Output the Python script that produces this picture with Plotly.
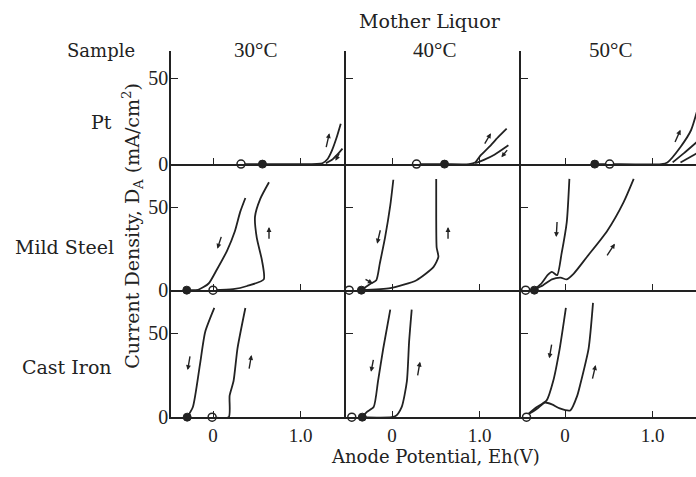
import plotly.graph_objects as go

W, H = 696, 477

# ---------------- text ----------------
SUPER_TITLE = "Mother Liquor"
ROW_NAMES = ["Pt", "Mild Steel", "Cast Iron"]
COL_NAMES = ["30°C", "40°C", "50°C"]
ROW_HEADER = "Sample"
X_TITLE = "Anode Potential, Eh(V)"
Y_TITLE = "Current Density, D<sub>A</sub> (mA/cm<sup>2</sup>)"
X_TICKS = [0, 1.0]
X_TICK_TEXT = ["0", "1.0"]
Y_TICKS = [0, 50]
Y_TICK_TEXT = ["0", "50"]

# ---------------- data (Eh in V, current in mA/cm2) ----------------
# Pt, 30 C
PT30_A_X = [0.32, 0.565, 1.0, 1.25, 1.31, 1.36, 1.41, 1.46]
PT30_A_Y = [0, 0, 0, 0.5, 3, 8, 15, 23.5]
PT30_B_X = [1.29, 1.36, 1.42, 1.48]
PT30_B_Y = [0.5, 2.5, 5.5, 9]
PT30_OPEN = [0.32]
PT30_FILLED = [0.565]
# Pt, 40 C
PT40_A_X = [0.28, 0.60, 0.88, 0.95, 1.01, 1.11, 1.21, 1.31]
PT40_A_Y = [0, 0, 0, 1, 5, 10, 15.5, 20.6]
PT40_B_X = [0.95, 1.05, 1.17, 1.33]
PT40_B_Y = [0.5, 2.5, 5.5, 11]
PT40_OPEN = [0.28]
PT40_FILLED = [0.60]
# Pt, 50 C
PT50_A_X = [0.34, 0.51, 1.1, 1.17, 1.32, 1.44, 1.51]
PT50_A_Y = [0, 0, 0, 1, 10, 19.7, 31]
PT50_B_X = [1.23, 1.36, 1.51]
PT50_B_Y = [1, 6.4, 13]
PT50_C_X = [1.32, 1.51]
PT50_C_Y = [1, 6.4]
PT50_OPEN = [0.51]
PT50_FILLED = [0.34]
# Mild steel, 30 C
MS30_DN_X = [0.37, 0.31, 0.25, 0.16, 0.04, -0.05, -0.17, -0.30]
MS30_DN_Y = [55.5, 47, 35.5, 23.7, 12, 4, 0.2, 0]
MS30_UP_X = [0.0, 0.23, 0.39, 0.58, 0.56, 0.50, 0.48, 0.54, 0.64]
MS30_UP_Y = [0, 0.6, 2.5, 6.5, 17.8, 31.6, 44.3, 55, 65]
MS30_OPEN = [0.0]
MS30_FILLED = [-0.30]
# Mild steel, 40 C
MS40_DN_X = [0.015, -0.02, -0.08, -0.14, -0.18, -0.25, -0.35]
MS40_DN_Y = [66.5, 51, 31.6, 16, 6, 3.7, 0]
MS40_UP_X = [-0.35, -0.02, 0.28, 0.475, 0.53, 0.51, 0.505, 0.505]
MS40_UP_Y = [0, 1.2, 6, 14, 20, 25.7, 45, 67]
MS40_OPEN = [-0.49]
MS40_FILLED = [-0.35]
# Mild steel, 50 C
MS50_DN_X = [0.05, 0.02, -0.04, -0.09, -0.15, -0.20, -0.27, -0.35]
MS50_DN_Y = [67, 41, 21.8, 9, 11, 9, 4, 0.5]
MS50_UP_X = [-0.35, -0.25, -0.15, -0.05, 0.02, 0.10, 0.25, 0.48, 0.67, 0.785]
MS50_UP_Y = [0.5, 3, 6.5, 7.5, 6.5, 10, 20, 35.5, 53, 67]
MS50_OPEN = [-0.45]
MS50_FILLED = [-0.35]
# Cast iron, 30 C
CI30_DN_X = [0.015, -0.09, -0.15, -0.23, -0.295]
CI30_DN_Y = [65, 50.6, 31, 6, 0]
CI30_UP_X = [-0.01, 0.18, 0.19, 0.235, 0.28, 0.37]
CI30_UP_Y = [0, 0, 12.8, 21.5, 41, 65]
CI30_OPEN = [-0.01]
CI30_FILLED = [-0.295]
# Cast iron, 40 C
CI40_DN_X = [-0.02, -0.10, -0.16, -0.21, -0.29, -0.34]
CI40_DN_Y = [64, 41, 21.5, 6, 3, 0]
CI40_UP_X = [-0.34, 0.035, 0.11, 0.17, 0.195, 0.225]
CI40_UP_Y = [0, 0.5, 6, 21.5, 44.8, 64]
CI40_OPEN = [-0.46]
CI40_FILLED = [-0.34]
# Cast iron, 50 C
CI50_DN_X = [0.01, -0.06, -0.135, -0.21, -0.345, -0.44]
CI50_DN_Y = [65, 41, 21.5, 10, 5.2, 1]
CI50_UP_X = [-0.44, -0.32, -0.23, -0.15, -0.06, 0.06, 0.14, 0.17, 0.27, 0.32]
CI50_UP_Y = [1, 5, 8.7, 7.6, 5.2, 4, 12.8, 18.6, 41, 68]
CI50_OPEN = [-0.44]
CI50_FILLED = []

# scan-direction arrows: (head_x, head_y, tail_x, tail_y)
ARROWS = {
    (0, 0): [(1.33, 18, 1.29, 9), (1.40, 2, 1.45, 7)],
    (0, 1): [(1.13, 18, 1.05, 11), (1.25, 4, 1.33, 9)],
    (0, 2): [(1.32, 20, 1.25, 12)],
    (1, 0): [(0.05, 25, 0.10, 33), (0.64, 38, 0.64, 30)],
    (1, 1): [(-0.17, 28, -0.13, 37), (0.64, 38, 0.64, 30), (-0.22, 4, -0.32, 7)],
    (1, 2): [(-0.10, 32, -0.09, 42), (0.57, 28, 0.47, 20)],
    (2, 0): [(-0.29, 28, -0.26, 37), (0.44, 37, 0.41, 28)],
    (2, 1): [(-0.24, 27, -0.21, 35), (0.32, 33, 0.29, 24)],
    (2, 2): [(-0.18, 35, -0.15, 44), (0.35, 31, 0.31, 22)],
}

PANELS = {
    (0, 0): ([(PT30_A_X, PT30_A_Y), (PT30_B_X, PT30_B_Y)], PT30_OPEN, PT30_FILLED),
    (0, 1): ([(PT40_A_X, PT40_A_Y), (PT40_B_X, PT40_B_Y)], PT40_OPEN, PT40_FILLED),
    (0, 2): ([(PT50_A_X, PT50_A_Y), (PT50_B_X, PT50_B_Y), (PT50_C_X, PT50_C_Y)], PT50_OPEN, PT50_FILLED),
    (1, 0): ([(MS30_DN_X, MS30_DN_Y), (MS30_UP_X, MS30_UP_Y)], MS30_OPEN, MS30_FILLED),
    (1, 1): ([(MS40_DN_X, MS40_DN_Y), (MS40_UP_X, MS40_UP_Y)], MS40_OPEN, MS40_FILLED),
    (1, 2): ([(MS50_DN_X, MS50_DN_Y), (MS50_UP_X, MS50_UP_Y)], MS50_OPEN, MS50_FILLED),
    (2, 0): ([(CI30_DN_X, CI30_DN_Y), (CI30_UP_X, CI30_UP_Y)], CI30_OPEN, CI30_FILLED),
    (2, 1): ([(CI40_DN_X, CI40_DN_Y), (CI40_UP_X, CI40_UP_Y)], CI40_OPEN, CI40_FILLED),
    (2, 2): ([(CI50_DN_X, CI50_DN_Y), (CI50_UP_X, CI50_UP_Y)], CI50_OPEN, CI50_FILLED),
}

# ---------------- layout geometry (pixels) ----------------
COL_PX = [(171, 346), (346, 521), (521, 696)]
ROW_PX = [(52, 168), (168, 297), (297, 427)]
X_RANGES = [[-0.48, 1.52], [-0.526, 1.474], [-0.503, 1.497]]
Y_RANGES = [[0, 65.9], [0, 75.9], [0, 75.6]]

INK = "#222222"
FONT = "DejaVu Serif"
NUM_FONT = "Liberation Serif"

fig = go.Figure()
layout = dict(
    width=W, height=H, margin=dict(l=0, r=0, t=0, b=0),
    paper_bgcolor="white", plot_bgcolor="white", showlegend=False,
    font=dict(family=FONT, color=INK, size=17),
)
annotations = []

for (r, c), (curves, opens, filleds) in PANELS.items():
    k = r * 3 + c + 1
    sx = "" if k == 1 else str(k)
    xref, yref = "x" + sx, "y" + sx
    for cx, cy in curves:
        fig.add_trace(go.Scatter(x=cx, y=cy, mode="lines", xaxis=xref, yaxis=yref,
                                 line=dict(color=INK, width=1.8, shape="spline", smoothing=0.6),
                                 hoverinfo="skip"))
    if opens:
        fig.add_trace(go.Scatter(x=opens, y=[0] * len(opens), mode="markers", xaxis=xref, yaxis=yref,
                                 cliponaxis=False,
                                 marker=dict(symbol="circle", size=8, color="white",
                                             line=dict(color=INK, width=1.5)),
                                 hoverinfo="skip"))
    if filleds:
        fig.add_trace(go.Scatter(x=filleds, y=[0] * len(filleds), mode="markers", xaxis=xref, yaxis=yref,
                                 cliponaxis=False,
                                 marker=dict(symbol="circle", size=8, color=INK,
                                             line=dict(color=INK, width=1)),
                                 hoverinfo="skip"))
    x0, x1 = COL_PX[c]
    y0, y1 = ROW_PX[r]
    layout["xaxis" + sx] = dict(
        domain=[x0 / W, x1 / W], range=X_RANGES[c], anchor=yref,
        showline=True, linecolor=INK, linewidth=1.7, showgrid=False, zeroline=False,
        ticks="inside", ticklen=6, tickwidth=1.3, tickcolor=INK,
        tickvals=X_TICKS, ticktext=X_TICK_TEXT, showticklabels=(r == 2),
        tickfont=dict(family=NUM_FONT, size=19, color=INK), fixedrange=True,
    )
    layout["yaxis" + sx] = dict(
        domain=[1 - y1 / H, 1 - y0 / H], range=Y_RANGES[r], anchor=xref,
        showline=True, linecolor=INK, linewidth=1.7, showgrid=False, zeroline=False,
        ticks="inside", ticklen=7, tickwidth=1.3, tickcolor=INK,
        tickvals=Y_TICKS, ticktext=Y_TICK_TEXT, showticklabels=(c == 0),
        ticklabelstandoff=-3,
        tickfont=dict(family=NUM_FONT, size=20, color=INK), fixedrange=True,
    )
    for hx, hy, tx, ty in ARROWS.get((r, c), []):
        annotations.append(dict(x=hx, y=hy, ax=tx, ay=ty, xref=xref, yref=yref,
                                axref=xref, ayref=yref, text="", showarrow=True,
                                arrowhead=2, arrowsize=0.7, arrowwidth=1.4, arrowcolor=INK))


def label(text, px, py, size=19, angle=0, family=FONT):
    annotations.append(dict(text=text, x=px / W, y=1 - py / H, xref="paper", yref="paper",
                            xanchor="center", yanchor="middle", showarrow=False, textangle=angle,
                            font=dict(family=family, size=size, color=INK)))


label(SUPER_TITLE, 430, 22, 19)
for name, px in zip(COL_NAMES, [255, 434, 610]):
    label(name, px, 51, 21, family=NUM_FONT)
label(ROW_HEADER, 101, 52, 18)
for name, (px, py) in zip(ROW_NAMES, [(101, 125), (64, 253), (67, 376)]):
    label(name, px, py, 19)
label(Y_TITLE, 133, 231, 19, -90)
label(X_TITLE, 436, 467, 18)

layout["annotations"] = annotations
fig.update_layout(**layout)
fig.write_html("out.html")
